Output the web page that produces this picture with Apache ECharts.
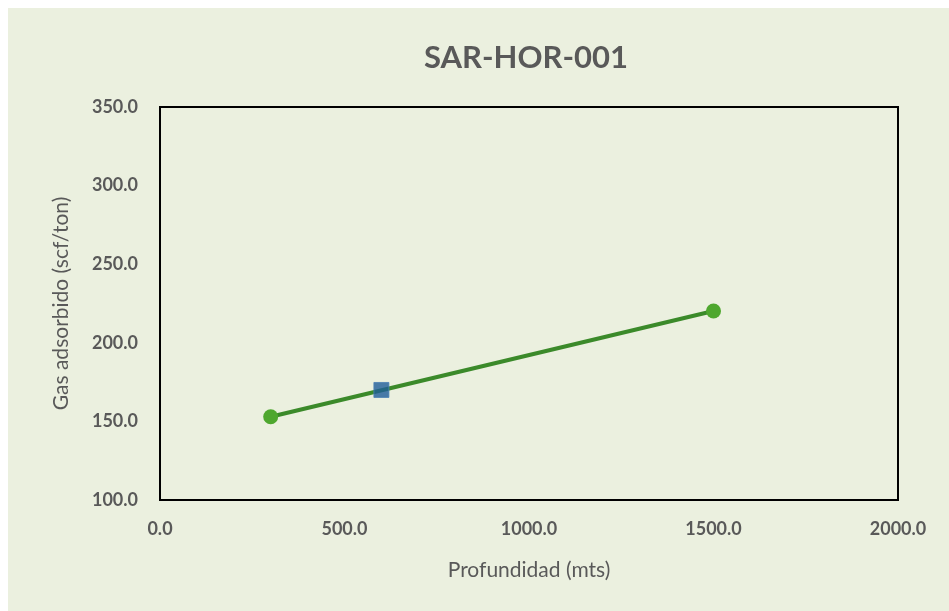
<!DOCTYPE html>
<html>
<head>
<meta charset="utf-8">
<script src="https://cdn.jsdelivr.net/npm/echarts@6/dist/echarts.min.js"></script>
<style>
  html, body { margin: 0; padding: 0; background: #fff; }
  #chart { position: absolute; left: 8px; top: 8px; width: 941px; height: 603px; }
</style>
</head>
<body>
<div id="chart"></div>
<script>
// 测点数据
const depthPoints = [300, 1500];
const gasPoints = [153.0, 220.2];
const squareDepth = [600];
const squareGas = [170.0];

const textColor = '#595959';
const bgColor = '#ebf0df';

const chart = echarts.init(document.getElementById('chart'));

const lineData = depthPoints.map((d, i) => [d, gasPoints[i]]);
const squareData = squareDepth.map((d, i) => [d, squareGas[i]]);

chart.setOption({
  backgroundColor: bgColor,
  animation: false,
  title: {
    text: 'SAR-HOR-001',
    left: 513,
    top: 29,
    textAlign: 'center',
    textStyle: { color: textColor, fontSize: 31, fontWeight: 'bold', fontFamily: 'Lato' },
  },
  grid: {
    left: 152,
    right: 51,
    top: 99,
    bottom: 111,
    show: true,
    borderColor: '#000',
    borderWidth: 2,
    backgroundColor: 'transparent',
  },
  xAxis: {
    type: 'value',
    min: 0,
    max: 2000,
    interval: 500,
    name: 'Profundidad (mts)',
    nameLocation: 'middle',
    nameGap: 60,
    nameTextStyle: { color: textColor, fontSize: 21, fontFamily: 'Lato' },
    axisLine: { show: false },
    axisTick: { show: false },
    splitLine: { show: false },
    axisLabel: {
      color: textColor,
      fontSize: 18,
      fontWeight: 'bold',
      fontFamily: 'Lato',
      margin: 20,
      formatter: (v) => v.toFixed(1),
    },
  },
  yAxis: {
    type: 'value',
    min: 100,
    max: 350,
    interval: 50,
    name: 'Gas adsorbido (scf/ton)',
    nameLocation: 'middle',
    nameGap: 88,
    nameTextStyle: { color: textColor, fontSize: 21, fontFamily: 'Lato' },
    axisLine: { show: false },
    axisTick: { show: false },
    splitLine: { show: false },
    axisLabel: {
      color: textColor,
      fontSize: 18,
      fontWeight: 'bold',
      fontFamily: 'Lato',
      margin: 22,
      formatter: (v) => v.toFixed(1),
    },
  },
  series: [
    {
      type: 'line',
      data: lineData,
      symbol: 'circle',
      symbolSize: 15,
      lineStyle: { color: '#3b8a2a', width: 4 },
      itemStyle: { color: '#4ea72e' },
      z: 2,
    },
    {
      type: 'scatter',
      data: squareData,
      symbol: 'rect',
      symbolSize: 15,
      itemStyle: { color: '#1f5c99', borderColor: '#4a7fb5', borderWidth: 1 },
      z: 3,
    },
  ],
});
</script>
</body>
</html>
